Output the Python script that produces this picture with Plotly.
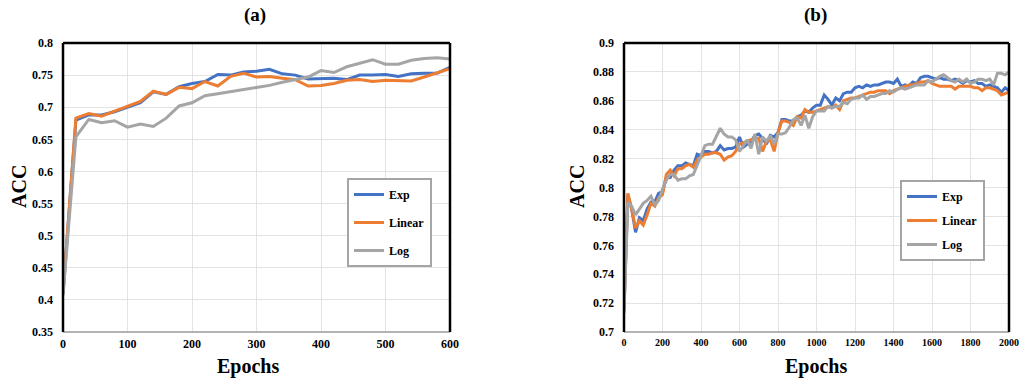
import plotly.graph_objects as go

# ---------------- Data: panel (a) ----------------
epochs_a = list(range(0, 601, 20))
exp_a = [0.41, 0.680, 0.688, 0.688, 0.693, 0.700, 0.707, 0.724, 0.720, 0.732, 0.737,
         0.740, 0.751, 0.750, 0.755, 0.756, 0.759, 0.752, 0.750, 0.744, 0.745, 0.745,
         0.743, 0.750, 0.750, 0.751, 0.748, 0.752, 0.753, 0.753, 0.762]
linear_a = [0.41, 0.683, 0.690, 0.686, 0.694, 0.701, 0.709, 0.725, 0.720, 0.731, 0.729,
            0.740, 0.733, 0.748, 0.753, 0.747, 0.748, 0.745, 0.743, 0.733, 0.734, 0.737,
            0.742, 0.743, 0.740, 0.742, 0.742, 0.741, 0.747, 0.753, 0.760]
log_a = [0.407, 0.654, 0.681, 0.676, 0.679, 0.669, 0.674, 0.670, 0.683, 0.702, 0.707,
         0.718, 0.721, 0.724, 0.727, 0.730, 0.734, 0.739, 0.743, 0.747, 0.757, 0.754,
         0.763, 0.769, 0.774, 0.767, 0.767, 0.773, 0.776, 0.777, 0.775]

# ---------------- Data: panel (b) ----------------
epochs_b = list(range(0, 2001, 20))
exp_b = [0.715, 0.795, 0.785, 0.769, 0.779, 0.777, 0.785, 0.790, 0.790, 0.796, 0.797,
         0.807, 0.807, 0.812, 0.815, 0.815, 0.817, 0.816, 0.815, 0.823, 0.822,
         0.825, 0.825, 0.824, 0.825, 0.829, 0.826, 0.827, 0.827, 0.828, 0.835,
         0.828, 0.830, 0.832, 0.836, 0.837, 0.834, 0.830, 0.836, 0.835, 0.838,
         0.847, 0.847, 0.846, 0.846, 0.849, 0.850, 0.853, 0.852, 0.855, 0.857,
         0.857, 0.864, 0.861, 0.857, 0.862, 0.860, 0.865, 0.866, 0.866, 0.869,
         0.870, 0.869, 0.871, 0.870, 0.871, 0.871, 0.872, 0.873, 0.873, 0.872,
         0.875, 0.870, 0.871, 0.870, 0.873, 0.872, 0.876, 0.877, 0.877, 0.876,
         0.875, 0.876, 0.875, 0.875, 0.874, 0.875, 0.874, 0.872, 0.874, 0.873,
         0.874, 0.872, 0.872, 0.870, 0.871, 0.870, 0.869, 0.866, 0.869, 0.867]
linear_b = [0.716, 0.796, 0.785, 0.772, 0.777, 0.774, 0.781, 0.789, 0.787, 0.793, 0.795,
            0.809, 0.812, 0.808, 0.813, 0.813, 0.815, 0.816, 0.814, 0.819, 0.821,
            0.823, 0.823, 0.824, 0.824, 0.823, 0.819, 0.821, 0.822, 0.825, 0.830,
            0.831, 0.832, 0.833, 0.834, 0.834, 0.825, 0.832, 0.833, 0.825, 0.838,
            0.846, 0.846, 0.845, 0.843, 0.849, 0.848, 0.854, 0.852, 0.852, 0.853,
            0.854, 0.855, 0.856, 0.855, 0.857, 0.854, 0.860, 0.861, 0.862, 0.862,
            0.863, 0.864, 0.865, 0.866, 0.866, 0.867, 0.867, 0.867, 0.865, 0.867,
            0.868, 0.869, 0.870, 0.871, 0.871, 0.872, 0.873, 0.873, 0.874, 0.872,
            0.871, 0.870, 0.870, 0.870, 0.870, 0.868, 0.870, 0.870, 0.870, 0.870,
            0.869, 0.869, 0.867, 0.869, 0.869, 0.868, 0.867, 0.864, 0.865, 0.866]
log_b = [0.713, 0.790, 0.787, 0.781, 0.785, 0.789, 0.791, 0.794, 0.788, 0.791, 0.799,
         0.805, 0.809, 0.809, 0.805, 0.806, 0.806, 0.808, 0.809, 0.815, 0.822,
         0.829, 0.830, 0.830, 0.836, 0.841, 0.837, 0.835, 0.835, 0.833, 0.825,
         0.829, 0.833, 0.827, 0.837, 0.823, 0.835, 0.832, 0.836, 0.830, 0.837,
         0.837, 0.838, 0.842, 0.847, 0.848, 0.843, 0.850, 0.841, 0.849, 0.853,
         0.853, 0.853, 0.856, 0.855, 0.856, 0.856, 0.859, 0.858, 0.861, 0.862,
         0.862, 0.864, 0.861, 0.863, 0.863, 0.864, 0.865, 0.865, 0.867, 0.866,
         0.868, 0.869, 0.868, 0.869, 0.870, 0.871, 0.871, 0.871, 0.874, 0.873,
         0.875, 0.877, 0.878, 0.876, 0.874, 0.873, 0.875, 0.873, 0.875, 0.872,
         0.873, 0.875, 0.875, 0.874, 0.875, 0.871, 0.879, 0.879, 0.878, 0.880]

series_names = ["Exp", "Linear", "Log"]
colors = ["#4472C4", "#ED7D31", "#A5A5A5"]

yticks_a = [0.35, 0.4, 0.45, 0.5, 0.55, 0.6, 0.65, 0.7, 0.75, 0.8]
yticktext_a = ["0.35", "0.4", "0.45", "0.5", "0.55", "0.6", "0.65", "0.7", "0.75", "0.8"]
yticks_b = [0.7, 0.72, 0.74, 0.76, 0.78, 0.8, 0.82, 0.84, 0.86, 0.88, 0.9]
yticktext_b = ["0.7", "0.72", "0.74", "0.76", "0.78", "0.8", "0.82", "0.84", "0.86", "0.88", "0.9"]

FONT = "Liberation Serif"
W, H = 1019, 378

fig = go.Figure()

for name, ys, c in zip(series_names, [exp_a, linear_a, log_a], colors):
    fig.add_trace(go.Scatter(x=epochs_a, y=ys, mode="lines", name=name,
                             line=dict(color=c, width=3), xaxis="x", yaxis="y",
                             legend="legend", legendgroup="a" + name))
for name, ys, c in zip(series_names, [exp_b, linear_b, log_b], colors):
    fig.add_trace(go.Scatter(x=epochs_b, y=ys, mode="lines", name=name,
                             line=dict(color=c, width=3), xaxis="x2", yaxis="y2",
                             legend="legend2", legendgroup="b" + name))

tickfont = dict(family=FONT, size=12, color="black", weight="bold")
tickfont_small = dict(family=FONT, size=10, color="black", weight="bold")
legfont = dict(family=FONT, size=12, color="black", weight="bold")
grid = "#E3E3E3"

ydom = [1 - 332 / H, 1 - 43 / H]
xdom_a = [63 / W, 450 / W]
xdom_b = [624 / W, 1009 / W]

common_x = dict(showgrid=True, gridcolor=grid, gridwidth=1, zeroline=False,
                showline=False, ticks="", automargin=False,
                ticklabelstandoff=3, ticklabeloverflow="allow")
common_y = dict(showgrid=True, gridcolor=grid, gridwidth=1, zeroline=False,
                showline=False, ticks="", tickfont=tickfont, ticklabelstandoff=9,
                automargin=False, ticklabeloverflow="allow")

fig.update_layout(
    width=W, height=H,
    margin=dict(l=0, r=0, t=0, b=0, autoexpand=False),
    paper_bgcolor="white", plot_bgcolor="white",
    xaxis=dict(domain=xdom_a, range=[0, 600], dtick=100, anchor="y",
               tickfont=tickfont, **common_x),
    yaxis=dict(domain=ydom, range=[0.35, 0.8], tickvals=yticks_a, ticktext=yticktext_a,
               anchor="x", **common_y),
    xaxis2=dict(domain=xdom_b, range=[0, 2000], dtick=200, anchor="y2",
                tickfont=tickfont_small, **common_x),
    yaxis2=dict(domain=ydom, range=[0.7, 0.9], tickvals=yticks_b, ticktext=yticktext_b,
                anchor="x2", **common_y),
    legend=dict(x=347 / W, y=1 - 178 / H, xanchor="left", yanchor="top",
                bordercolor="#A5A5A5", borderwidth=2, bgcolor="white",
                font=legfont, tracegroupgap=9, itemwidth=30),
    legend2=dict(x=900 / W, y=1 - 180 / H, xanchor="left", yanchor="top",
                 bordercolor="#A5A5A5", borderwidth=2, bgcolor="white",
                 font=legfont, tracegroupgap=5, itemwidth=30),
    showlegend=True,
)

# plot-area borders: black left/top/right, grey bottom
for xr, yr in [("x domain", "y domain"), ("x2 domain", "y2 domain")]:
    fig.add_shape(type="line", xref=xr, yref=yr, x0=0, x1=1, y0=0, y1=0,
                  line=dict(color="#9A9A9A", width=1.5))
    for x0, y0, x1, y1 in [(0, 0, 0, 1), (0, 1, 1, 1), (1, 0, 1, 1)]:
        fig.add_shape(type="line", xref=xr, yref=yr, x0=x0, x1=x1, y0=y0, y1=y1,
                      line=dict(color="black", width=2.5))

title_font = dict(family=FONT, size=19, color="black", weight="bold")
axis_font = dict(family=FONT, size=20, color="black", weight="bold")
ann = [
    ("(a)", 255, 15, 0, title_font),
    ("(b)", 815, 15, 0, title_font),
    ("Epochs", 248, 366, 0, axis_font),
    ("Epochs", 816, 366, 0, axis_font),
    ("ACC", 19, 187, -90, axis_font),
    ("ACC", 577, 187, -90, axis_font),
]
for text, px, py, ang, f in ann:
    fig.add_annotation(text=text, x=px / W, y=1 - py / H, xref="paper", yref="paper",
                       showarrow=False, textangle=ang, font=f,
                       xanchor="center", yanchor="middle")

fig.write_html("out.html")
